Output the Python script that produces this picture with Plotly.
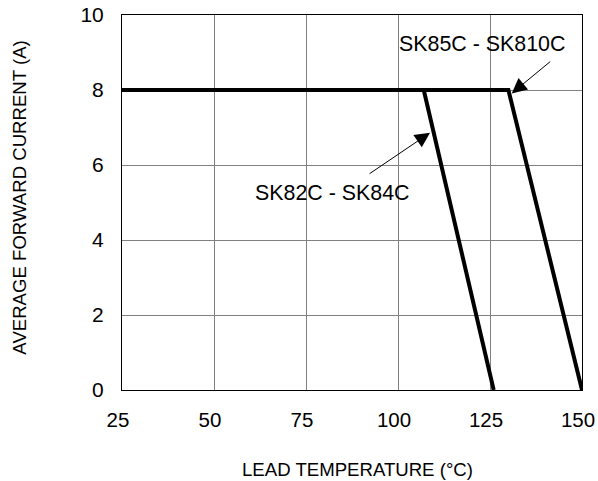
import plotly.graph_objects as go

# Data
temp_sk82_84 = [25, 107, 126]
curr_sk82_84 = [8, 8, 0]
temp_sk85_810 = [25, 130, 150]
curr_sk85_810 = [8, 8, 0]
x_ticks = [25, 50, 75, 100, 125, 150]
y_ticks = [0, 2, 4, 6, 8, 10]

fig = go.Figure()
fig.add_trace(go.Scatter(x=temp_sk85_810, y=curr_sk85_810, mode="lines",
                         line=dict(color="black", width=4), showlegend=False))
fig.add_trace(go.Scatter(x=temp_sk82_84, y=curr_sk82_84, mode="lines",
                         line=dict(color="black", width=4), showlegend=False))

font = dict(family="Liberation Sans, Arial, sans-serif", color="black")

fig.update_layout(
    width=598, height=481,
    margin=dict(l=122, r=16, t=15, b=91),
    plot_bgcolor="white", paper_bgcolor="white",
    font=font,
    xaxis=dict(range=[25, 150], tickvals=x_ticks,
               showgrid=True, gridcolor="#808080",
               gridwidth=1, zeroline=False, showline=True, linecolor="black", linewidth=1,
               mirror=True, ticks="", tickfont=dict(size=20.5), ticklabelstandoff=11,
               ticklabelshift=-4,
               automargin=False, ticklabeloverflow="allow"),
    yaxis=dict(range=[0, 10], tickvals=y_ticks, showgrid=True, gridcolor="#808080",
               gridwidth=1, zeroline=False, showline=True, linecolor="black", linewidth=1,
               mirror=True, ticks="", tickfont=dict(size=21), ticklabelstandoff=13,
               automargin=False, ticklabeloverflow="allow"),
    annotations=[
        dict(x=0.513, y=-0.211, xref="paper", yref="paper", xanchor="center",
             yanchor="middle", text="LEAD TEMPERATURE (°C)", showarrow=False,
             font=dict(size=18.6)),
        dict(x=-0.2217, y=0.513, xref="paper", yref="paper", xanchor="center",
             yanchor="middle", text="AVERAGE FORWARD CURRENT (A)", showarrow=False,
             textangle=-90, font=dict(size=18.6)),
        dict(x=130.9, y=7.91, xref="x", yref="y", text="", showarrow=True,
             arrowhead=2, arrowsize=3, arrowwidth=1, arrowcolor="black",
             ax=40, ay=-33),
        dict(x=122.8, y=9.24, xref="x", yref="y", text="SK85C - SK810C", showarrow=False,
             font=dict(size=21.4)),
        dict(x=108.7, y=6.86, xref="x", yref="y", text="", showarrow=True,
             arrowhead=2, arrowsize=3, arrowwidth=1, arrowcolor="black",
             ax=-62, ay=42),
        dict(x=82.3, y=5.25, xref="x", yref="y", text="SK82C - SK84C", showarrow=False,
             font=dict(size=21.4)),
    ],
)

fig.write_html("out.html", config={"displayModeBar": False},
               post_script="document.body.style.margin='0';")
